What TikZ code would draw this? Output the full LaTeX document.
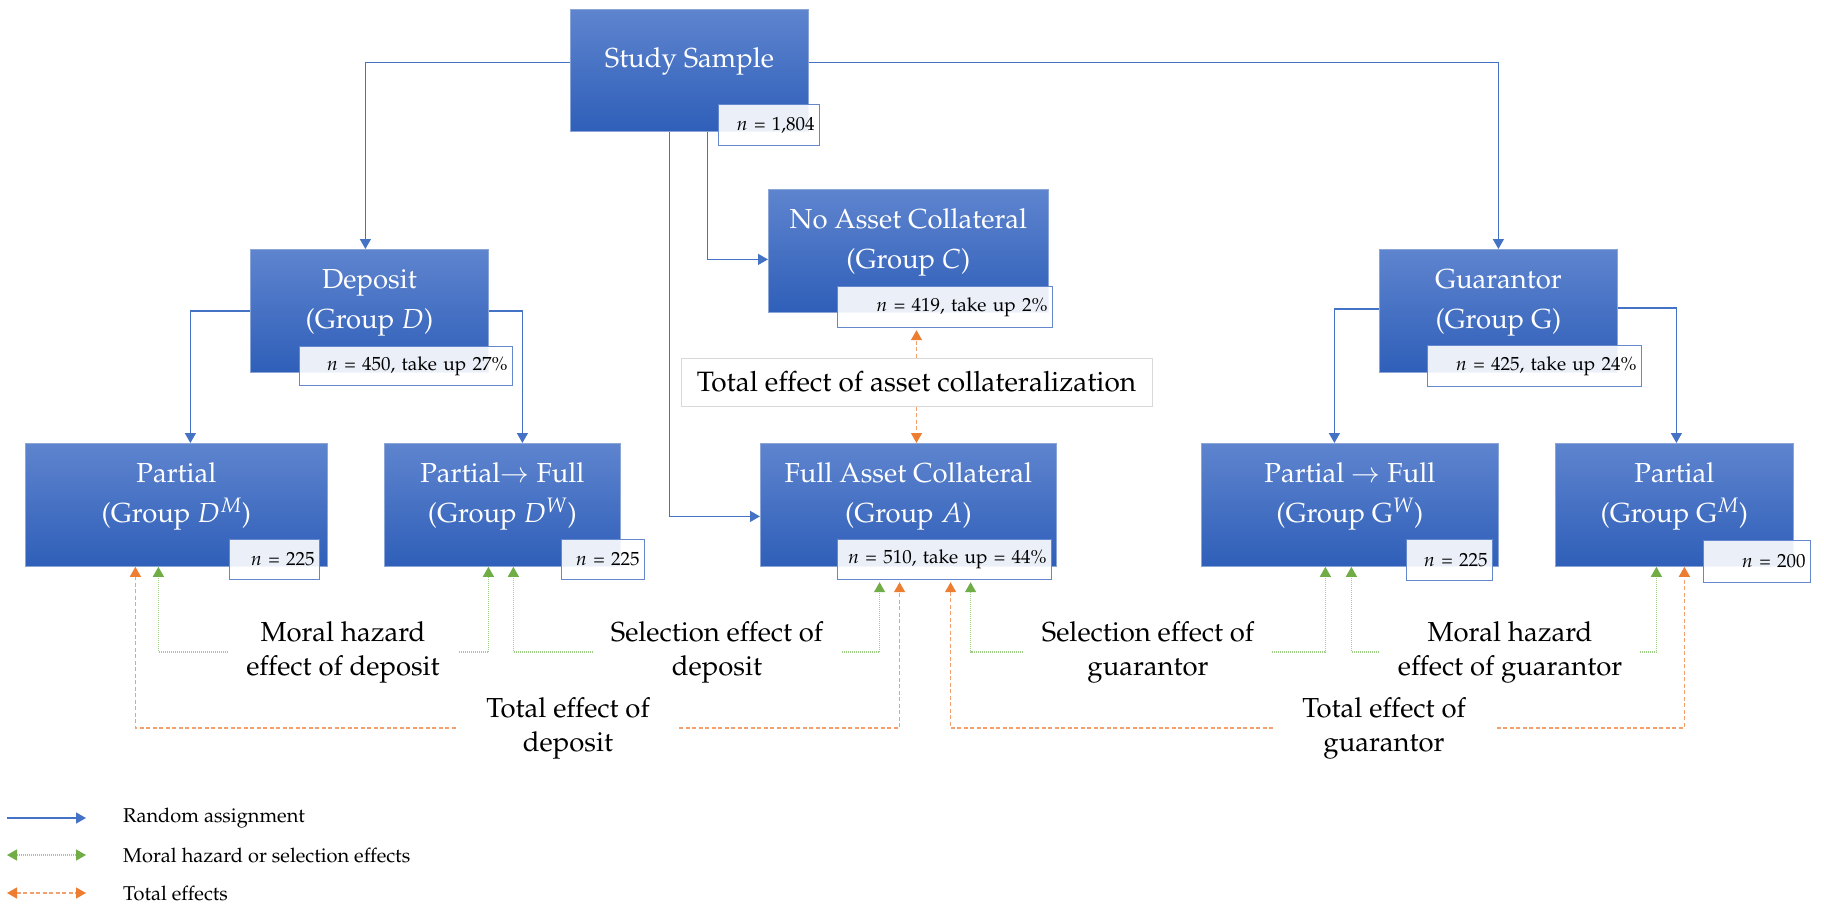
\documentclass[tikz,border=0pt]{standalone}
\usepackage[T1]{fontenc}
\usepackage{mathpazo}
\usetikzlibrary{arrows.meta}
\definecolor{boxtop}{RGB}{94,132,206}
\definecolor{boxbot}{RGB}{47,95,185}
\definecolor{boxedge}{RGB}{140,165,215}
\definecolor{nedge}{RGB}{100,135,205}
\definecolor{blu}{RGB}{68,114,196}
\definecolor{grnline}{RGB}{160,205,135}
\definecolor{grnhead}{RGB}{112,173,71}
\definecolor{orgline}{RGB}{242,160,110}
\definecolor{orghead}{RGB}{237,125,49}
\definecolor{teaedge}{RGB}{217,217,217}
\pgfdeclarelayer{back}
\pgfsetlayers{back,main}
\tikzset{
  blk/.style={draw=boxedge, line width=0.8pt, top color=boxtop, bottom color=boxbot, anchor=north west, inner sep=0pt, minimum height=123pt},
  btxt/.style={text=white, font=\fontsize{27.5}{40}\selectfont, align=center, yshift=8.5pt},
  nbox/.style={draw=nedge, line width=1.2pt, fill=white, fill opacity=0.9, text opacity=1, font=\fontsize{19}{22}\selectfont, anchor=north west, align=right, inner xsep=5pt, inner ysep=0pt},
  lbl/.style={fill=white, font=\fontsize{27.5}{34}\selectfont, align=center, inner ysep=1pt},
  glbl/.style={lbl, inner xsep=18pt},
  olbl/.style={lbl, inner xsep=28pt},
  legtxt/.style={anchor=west, font=\fontsize{20}{24}\selectfont, inner sep=0pt},
  tipb/.tip={Triangle[width=11pt,length=10pt]},
  tipg/.tip={Triangle[width=11pt,length=10pt,color=grnhead]},
  tipo/.tip={Triangle[width=11pt,length=10pt,color=orghead]},
  randarrow/.style={draw=blu, line width=1.3pt, -tipb},
  effarrow/.style={draw=grnline, line width=1.3pt, dash pattern=on 1pt off 1pt, tipg-tipg},
  totarrow/.style={draw=orgline, line width=1.3pt, dash pattern=on 4pt off 2.5pt, tipo-tipo},
  totsingle/.style={draw=orgline, line width=1.3pt, dash pattern=on 4pt off 2.5pt, -tipo},
}
\begin{document}
\begin{tikzpicture}[x=1pt,y=-1pt]
\useasboundingbox (0,0) rectangle (1824,903);
% boxes
\node[blk, minimum width=238pt, minimum height=122pt, label={[btxt]center:Study Sample}] (S) at (570,9) {};
\node[blk, minimum width=238pt, label={[btxt]center:{Deposit\\(Group $D$)}}] (D) at (250,249) {};
\node[blk, minimum width=280pt, label={[btxt]center:{No Asset Collateral\\(Group $C$)}}] (C) at (768,189) {};
\node[blk, minimum width=238pt, label={[btxt]center:{Guarantor\\(Group G)}}] (G) at (1379,249) {};
\node[blk, minimum width=302pt, label={[btxt]center:{Partial\\(Group $D^M$)}}] (DM) at (25,443) {};
\node[blk, minimum width=236pt, label={[btxt]center:{Partial$\rightarrow$ Full\\(Group $D^W$)}}] (DW) at (384,443) {};
\node[blk, minimum width=296pt, label={[btxt]center:{Full Asset Collateral\\(Group $A$)}}] (A) at (760,443) {};
\node[blk, minimum width=297pt, label={[btxt]center:{Partial $\rightarrow$ Full\\(Group G$^W$)}}] (GW) at (1201,443) {};
\node[blk, minimum width=238pt, label={[btxt]center:{Partial\\(Group G$^M$)}}] (GM) at (1555,443) {};
% n boxes
\node[nbox, text width=91pt, minimum height=41pt] (nS) at (718,104) {$n$ = 1,804};
\node[nbox, text width=203pt, minimum height=39pt] (nD) at (299,346) {$n$ = 450, take up 27\%};
\node[nbox, text width=205pt, minimum height=41pt] (nC) at (837,286) {$n$ = 419, take up 2\%};
\node[nbox, text width=204pt, minimum height=41pt] (nG) at (1427,345) {$n$ = 425, take up 24\%};
\node[nbox, text width=80pt, minimum height=40pt] (nDM) at (229,539) {$n$ = 225};
\node[nbox, text width=73pt, minimum height=40pt] (nDW) at (561,539) {$n$ = 225};
\node[nbox, text width=204pt, minimum height=40pt] (nA) at (837,539) {$n$ = 510, take up = 44\%};
\node[nbox, text width=76pt, minimum height=41pt] (nGW) at (1406,539) {$n$ = 225};
\node[nbox, text width=97pt, minimum height=42pt] (nGM) at (1703,540) {$n$ = 200};
% effect labels
\node[draw=teaedge, line width=1pt, fill=white, minimum width=471pt, minimum height=48pt, font=\fontsize{28}{34}\selectfont] (TEA) at (916.5,382) {Total effect of asset collateralization};
\node[glbl] (MHD) at (343,652) {Moral hazard\\effect of deposit};
\node[glbl] (SED) at (717,652) {Selection effect of\\deposit};
\node[glbl] (SEG) at (1148,652) {Selection effect of\\guarantor};
\node[glbl] (MHG) at (1510,652) {Moral hazard\\effect of guarantor};
\node[olbl] (TED) at (568,728) {Total effect of\\deposit};
\node[olbl] (TEG) at (1384,728) {Total effect of\\guarantor};
% legend
\coordinate (L1a) at (7,818); \coordinate (L1b) at (86,818);
\coordinate (L2a) at (7,855); \coordinate (L2b) at (86,855);
\coordinate (L3a) at (7,893); \coordinate (L3b) at (86,893);
\node[legtxt] (L1t) at (123,818) {Random assignment};
\node[legtxt] (L2t) at (123,855) {Moral hazard or selection effects};
\node[legtxt] (L3t) at (123,893) {Total effects};
\begin{pgfonlayer}{back}
% random assignment
\draw[randarrow] ([yshift=8pt]S.west) -| ([xshift=-4pt]D.north);
\draw[randarrow] ([yshift=8pt]S.east) -| (G.north);
\draw[randarrow] ([xshift=18pt]S.south) |- ([yshift=-8.5pt]C.west);
\draw[randarrow] ([xshift=-20pt]S.south) |- ([yshift=-11.5pt]A.west);
\draw[randarrow] (D.west) -| ([xshift=14pt]DM.north);
\draw[randarrow] (D.east) -| ([xshift=20pt]DW.north);
\draw[randarrow] ([yshift=2pt]G.west) -| ([xshift=-15.5pt]GW.north);
\draw[randarrow] ([yshift=3pt]G.east) -| ([xshift=2pt]GM.north);
% moral hazard / selection
\draw[effarrow] ([xshift=-18pt]DM.south) |- (MHD.center) -| ([xshift=-14pt]DW.south);
\draw[effarrow, shorten >=2pt] ([xshift=11pt]DW.south) |- (SED.center) -| ([xshift=-65pt]nA.south);
\draw[effarrow, shorten <=2pt] ([xshift=26pt]nA.south) |- (SEG.center) -| ([xshift=-24.5pt]GW.south);
\draw[effarrow] ([xshift=1.5pt]GW.south) |- (MHG.center) -| ([xshift=-18pt]GM.south);
% total effects
\draw[totarrow, shorten >=2pt] ([xshift=-41pt]DM.south) |- (TED.center) -| ([xshift=-45pt]nA.south);
\draw[totarrow, shorten <=2pt] ([xshift=6pt]nA.south) |- (TEG.center) -| ([xshift=10pt]GM.south);
\draw[totsingle, shorten >=2pt] (TEA.north) -- (TEA.north |- nC.south);
\draw[totsingle] (TEA.south) -- (TEA.south |- A.north);
% legend lines
\draw[randarrow] (L1a) -- (L1b);
\draw[effarrow] (L2a) -- (L2b);
\draw[totarrow] (L3a) -- (L3b);
\end{pgfonlayer}
\end{tikzpicture}
\end{document}
